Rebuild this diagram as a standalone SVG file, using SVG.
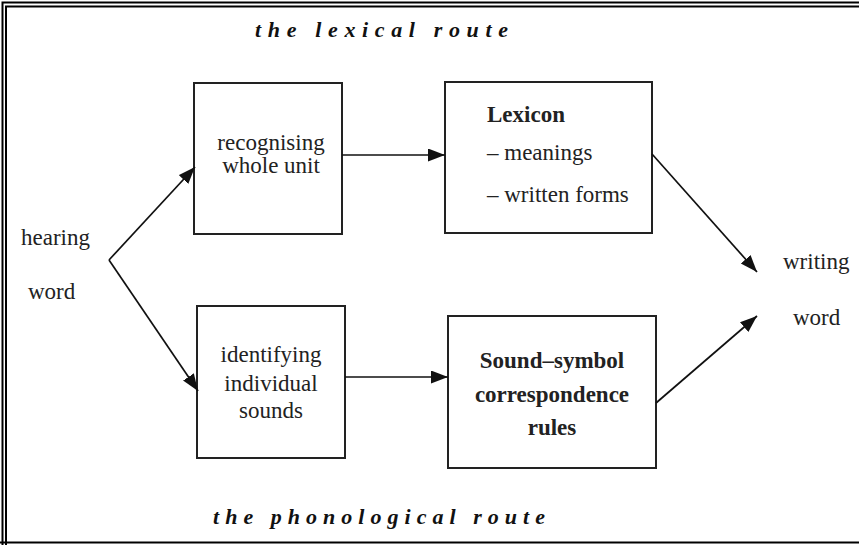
<svg xmlns="http://www.w3.org/2000/svg" width="859" height="545" viewBox="0 0 859 545">
<style>
.frame{fill:none;stroke:#000;stroke-width:2}
.box{fill:#fff;stroke:#222;stroke-width:2}
.lbl{font-family:"Liberation Serif","Times New Roman",serif;font-size:23px;fill:#222}
.b{font-weight:bold}
.title{font-family:"Liberation Serif","Times New Roman",serif;font-size:22px;font-weight:bold;font-style:italic;fill:#111}
.conn line{stroke:#111;stroke-width:1.7;marker-end:url(#ah)}
</style>
<defs>
<marker id="ah" markerUnits="userSpaceOnUse" markerWidth="18" markerHeight="14" refX="17" refY="6.5" orient="auto">
<path d="M0,0 L17,6.5 L0,13 z" fill="#111"/>
</marker>
</defs>
<rect width="859" height="545" fill="#fff"/>
<g id="frame">
<path class="frame" d="M2.5,545 V2.5 H859"/>
<path class="frame" d="M6,545 V6.5 H859"/>
<line x1="0" y1="542.5" x2="859" y2="542.5" stroke="#000" stroke-width="2"/>
</g>
<g id="title-lexical"><text class="title" x="255" y="37" textLength="253" lengthAdjust="spacing">the lexical route</text></g>
<g id="title-phonological"><text class="title" x="213" y="524" textLength="332" lengthAdjust="spacing">the phonological route</text></g>
<g id="hearing-word">
<text class="lbl" x="21" y="245">hearing</text>
<text class="lbl" x="28" y="299">word</text>
</g>
<g id="recognising">
<rect class="box" x="194" y="83" width="148" height="151"/>
<text class="lbl" text-anchor="middle" x="271" y="150">recognising</text>
<text class="lbl" text-anchor="middle" x="271" y="173">whole unit</text>
</g>
<g id="identifying">
<rect class="box" x="197" y="306" width="148" height="152"/>
<text class="lbl" text-anchor="middle" x="271" y="362">identifying</text>
<text class="lbl" text-anchor="middle" x="271" y="391">individual</text>
<text class="lbl" text-anchor="middle" x="271" y="418">sounds</text>
</g>
<g id="lexicon">
<rect class="box" x="445" y="82" width="207" height="151"/>
<text class="lbl b" x="487" y="122">Lexicon</text>
<text class="lbl" x="487" y="160">– meanings</text>
<text class="lbl" x="487" y="202">– written forms</text>
</g>
<g id="sound-symbol">
<rect class="box" x="448" y="316" width="208" height="152"/>
<text class="lbl b" text-anchor="middle" x="552" y="368">Sound–symbol</text>
<text class="lbl b" text-anchor="middle" x="552" y="402">correspondence</text>
<text class="lbl b" text-anchor="middle" x="552" y="435">rules</text>
</g>
<g id="writing-word">
<text class="lbl" x="783" y="269">writing</text>
<text class="lbl" x="793" y="325">word</text>
</g>
<g id="connectors" class="conn">
<line x1="109" y1="260" x2="195" y2="167"/>
<line x1="109" y1="260" x2="198" y2="391"/>
<line x1="342" y1="155" x2="445" y2="155"/>
<line x1="345" y1="377" x2="448" y2="377"/>
<line x1="652" y1="154" x2="757" y2="272"/>
<line x1="656" y1="403" x2="757" y2="316"/>
</g>
</svg>
